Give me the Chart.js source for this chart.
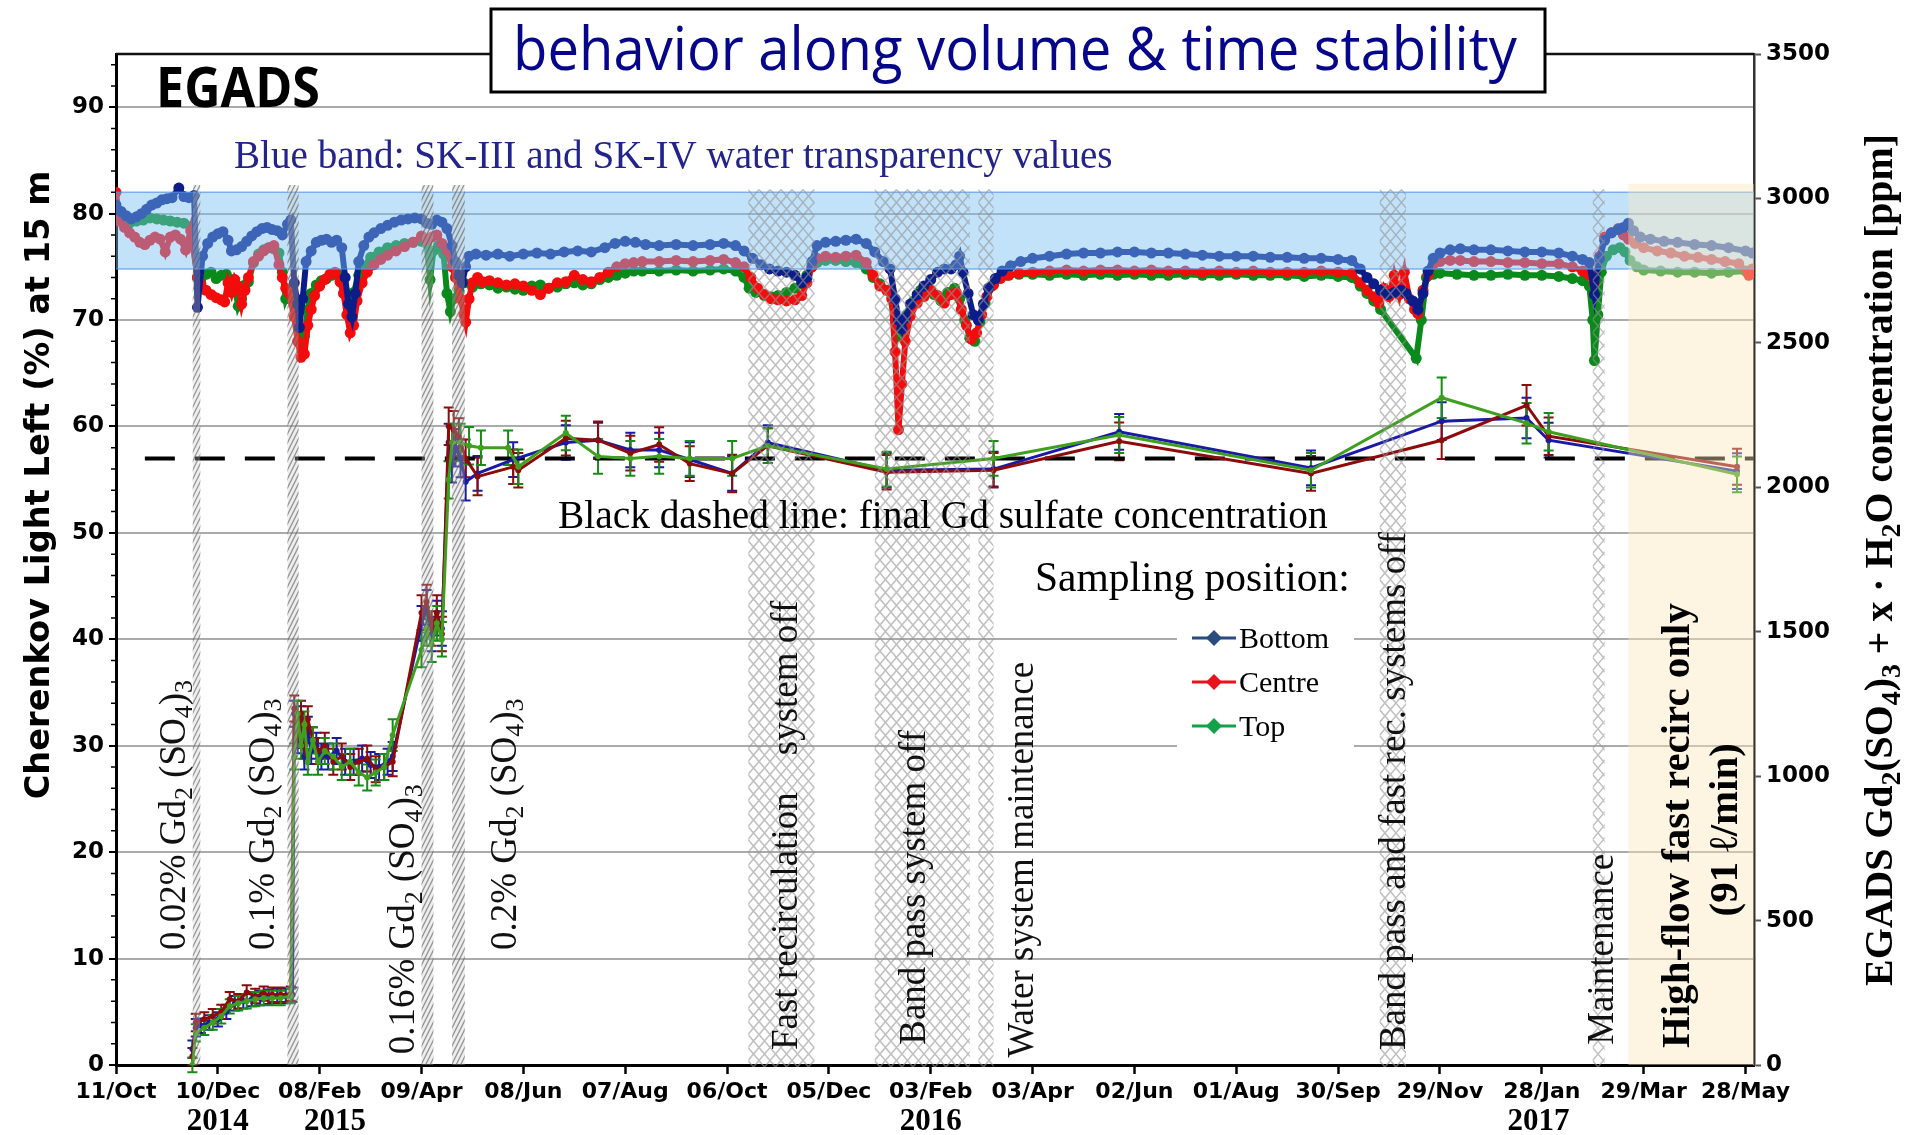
<!DOCTYPE html>
<html lang="en">
<head>
<meta charset="utf-8">
<title>EGADS - light left at 15 m</title>
<script src="https://cdn.jsdelivr.net/npm/chart.js@4.4.1/dist/chart.umd.min.js"></script>
<style>
  html, body { margin: 0; padding: 0; background: #fff; }
  canvas { display: block; }
</style>
</head>
<body>
<canvas id="egads" width="1914" height="1135"></canvas>
<script>
// x values are days counted from 11 Oct 2014
const xTickDays = [0, 60, 120, 180, 240, 300, 360, 420, 480, 540, 600, 660, 720, 780, 840, 900, 960];
const xTickLabels = ['11/Oct', '10/Dec', '08/Feb', '09/Apr', '08/Jun', '07/Aug', '06/Oct', '05/Dec',
  '03/Feb', '03/Apr', '02/Jun', '01/Aug', '30/Sep', '29/Nov', '28/Jan', '29/Mar', '28/May'];
const yearLabels = [['2014', 60], ['2015', 129], ['2016', 480], ['2017', 838]];
const leftTicks = [0, 10, 20, 30, 40, 50, 60, 70, 80, 90];
const rightTicks = [0, 500, 1000, 1500, 2000, 2500, 3000, 3500];

// Cherenkov light left at 15 m (%), [day, value]
const bottomLL = [
  [0,80.8],[3,80.2],[6,79.8],[9,79.5],[12,79.7],[15,80.0],[18,80.4],[21,80.8],[24,81.0],[27,81.3],[30,81.4],[33,81.5],[37,82.4],[40,81.6],[43,81.5],[46,81.7],
  [48,71.2],[51,76.0],[54,77.2],[57,77.8],[60,78.1],[63,78.3],[66,77.5],[68,76.5],[71,76.6],[74,76.9],[77,77.4],[80,77.9],[83,78.3],[86,78.6],[89,78.7],[92,78.5],[95,78.4],[98,78.0],[101,79.0],[103,79.4],
  [105,73.5],[107,71.5],[108,69.3],[110,72.0],[112,75.5],[115,76.5],[118,77.3],[121,77.5],[124,77.6],[127,77.3],[130,77.5],[133,76.8],[135,74.0],[137,71.5],[139,70.3],[141,72.5],[143,75.5],[146,77.0],[149,77.8],[152,78.2],[156,78.6],[160,78.9],[164,79.2],[168,79.4],[172,79.5],[176,79.6],[180,79.5],[183,79.1],[186,79.0],[189,79.4],[192,79.2],[195,78.6],[198,77.0],[200,75.5],[202,74.2],[204,73.5],[206,75.0],[208,76.0],[212,76.2],[218,76.1],[225,76.2],[232,76.0],[240,76.2],[248,76.3],[256,76.2],[264,76.4],[272,76.5],[280,76.4],[288,76.8],[294,77.2],[300,77.4],[306,77.3],[312,77.1],
  [320,77.0],[330,77.1],[340,77.0],[350,77.1],[358,77.2],[365,77.0],[370,76.5],[375,75.8],[380,75.2],[385,74.8],[390,74.6],[395,74.5],[400,74.2],[404,73.5],[407,74.0],[410,75.5],[413,77.0],[418,77.3],[424,77.4],[430,77.5],[436,77.6],[442,77.2],[447,76.4],[452,75.5],[456,74.8],[459,72.0],[461,70.0],[463,69.2],[465,70.2],[468,71.5],[472,72.4],[476,73.2],[480,73.8],[484,74.5],[488,74.8],[492,74.8],[495,75.2],[497,76.0],[499,74.5],[502,72.5],[505,70.5],[508,70.0],[511,71.5],[514,73.0],[518,73.9],[522,74.6],[527,75.1],[533,75.5],
  [540,75.8],[550,76.0],[560,76.2],[570,76.3],[580,76.3],[590,76.4],[600,76.4],[610,76.3],[620,76.3],[630,76.2],[640,76.1],[650,76.0],[660,76.0],[670,76.0],[680,75.9],[690,75.9],[700,75.8],[710,75.8],[720,75.7],[728,75.6],[733,74.8],[737,74.0],[741,73.4],[745,72.8],[749,72.4],[753,72.6],[757,72.8],[760,72.5],[764,71.8],[767,71.0],[770,72.5],[773,74.6],[776,75.8],[780,76.3],[786,76.6],[792,76.7],[800,76.6],[810,76.6],[820,76.5],[830,76.4],[840,76.4],[850,76.3],[858,76.0],[864,75.7],[868,75.4],[871,72.4],[874,75.8],[877,77.5],[881,78.2],[885,78.5],[888,78.7],[891,79.1],[894,78.4],[898,77.8],[904,77.6],[912,77.4],[920,77.3],[930,77.1],[940,77.0],[950,76.8],[960,76.5],[964,76.3]
];
const centreLL = [
  [0,82.0],[2,79.3],[5,78.7],[8,78.2],[11,77.8],[14,77.3],[17,77.1],[20,77.5],[23,77.8],[26,77.6],[29,76.4],[32,77.8],[35,78.0],[38,77.6],[41,76.6],[44,78.4],
  [48,74.0],[50,73.4],[53,72.8],[56,72.4],[59,72.1],[62,71.9],[64,71.7],[66,73.5],[68,72.6],[70,73.8],[72,73.2],[74,71.5],[76,72.8],[78,74.0],[81,75.5],[84,76.0],[87,76.5],[90,76.8],[93,77.0],[96,75.2],[98,74.0],[100,73.0],[102,72.5],
  [105,70.3],[107,68.0],[109,66.5],[111,66.8],[113,69.5],[115,71.0],[117,72.3],[120,73.2],[123,73.8],[126,74.3],[129,74.5],[132,73.6],[134,72.5],[136,70.5],[138,68.8],[140,69.5],[142,71.8],[145,73.5],[148,74.5],[152,75.2],[156,75.7],[160,76.1],[165,76.5],[170,76.9],[175,77.3],[180,77.9],[183,77.5],[186,77.8],[189,78.0],[192,77.2],[195,76.5],[198,75.0],[200,74.0],
  [203,72.0],[205,70.5],[206,69.8],[208,72.0],[210,73.5],[213,74.0],[216,73.6],[220,73.7],[225,73.5],[230,73.3],[235,73.4],[240,73.2],[245,72.8],[250,72.4],[255,73.0],[260,73.5],[265,73.6],[270,74.2],[275,73.8],[280,73.6],[285,74.0],[290,74.5],[295,75.0],[300,75.3],[305,75.4],[310,75.5],
  [320,75.5],[330,75.6],[340,75.5],[350,75.6],[358,75.7],[365,75.4],[370,75.0],[374,74.0],[378,73.0],[382,72.4],[386,72.0],[390,71.9],[395,71.8],[400,71.9],[404,72.3],[407,73.5],[410,75.0],[413,75.8],[418,76.0],[424,75.9],[430,76.0],[436,76.1],[442,75.4],[446,74.2],[450,73.2],[454,72.8],[457,72.0],[459,67.0],[461,59.7],[463,64.0],[465,68.0],[468,70.4],[472,71.6],[476,72.2],[480,72.8],[484,72.3],[488,71.6],[492,72.4],[495,72.6],[498,71.0],[501,69.5],[504,68.2],[507,68.8],[510,70.5],[513,72.2],[517,73.3],[521,73.9],[526,74.2],[532,74.4],
  [540,74.5],[550,74.6],[560,74.7],[570,74.6],[580,74.7],[590,74.7],[600,74.6],[610,74.7],[620,74.6],[630,74.6],[640,74.5],[650,74.6],[660,74.5],[670,74.6],[680,74.5],[690,74.5],[700,74.5],[710,74.6],[720,74.5],[728,74.4],[733,73.5],[737,72.8],[741,72.2],[744,71.6],[747,73.0],[750,72.2],[753,74.2],[756,72.4],[759,74.5],[762,72.0],[765,71.0],[767,70.6],[770,72.8],[773,74.2],[776,75.2],[780,75.5],[786,75.6],[792,75.6],[800,75.5],[810,75.5],[820,75.4],[830,75.4],[840,75.3],[850,75.3],[858,75.0],[864,74.6],[868,74.2],[871,73.4],[874,76.0],[877,77.8],[881,78.2],[885,78.6],[888,78.0],[891,77.6],[895,77.2],[900,76.8],[908,76.5],[916,76.3],[924,76.0],[932,75.9],[940,75.7],[948,75.5],[956,75.3],[962,74.2],[964,74.8]
];
const topLL = [
  [0,80.2],[4,79.4],[8,79.1],[12,79.3],[16,79.4],[20,79.6],[24,79.5],[28,79.4],[32,79.3],[36,79.2],[40,79.1],[44,78.8],
  [48,74.0],[50,73.8],[53,74.3],[56,74.5],[59,73.9],[62,74.2],[65,74.3],[68,73.8],[70,73.2],[72,71.3],[74,72.0],[76,73.3],[78,73.6],[81,75.4],[84,76.2],[87,76.6],[90,76.8],[93,76.7],[96,76.3],[98,74.5],[100,72.0],[102,72.8],
  [105,72.0],[107,70.5],[109,67.8],[111,68.5],[113,71.0],[115,72.5],[118,73.3],[121,73.7],[124,73.9],[127,74.2],[130,74.4],[133,73.8],[136,72.4],[138,71.8],[140,72.6],[143,74.2],[146,75.0],[150,75.9],[155,76.4],[160,76.8],[165,77.0],[170,77.2],[175,77.3],[180,77.4],[183,77.2],[185,73.8],[187,76.5],[190,77.0],[193,76.2],[195,72.5],[197,70.8],[199,72.0],[202,72.8],[205,73.5],[210,73.1],[215,73.4],[220,73.3],[225,73.0],[230,73.1],[235,72.9],[240,72.8],[245,73.2],[250,73.3],[255,73.0],[260,73.1],[265,73.4],[270,73.5],[275,73.3],[280,73.4],[285,73.8],[290,74.0],[295,74.2],[300,74.4],[305,74.6],[310,74.6],
  [320,74.6],[330,74.7],[340,74.6],[350,74.7],[358,74.8],[365,74.6],[370,74.0],[373,73.0],[377,72.6],[382,72.3],[386,72.2],[390,72.3],[395,72.6],[400,73.0],[404,73.4],[407,74.2],[410,75.0],[413,75.4],[418,75.6],[424,75.6],[430,75.5],[436,75.4],[442,74.8],[446,74.0],[450,73.4],[455,72.8],[459,70.0],[461,68.5],[463,69.0],[466,70.5],[470,71.8],[474,72.8],[478,73.2],[482,72.4],[486,71.8],[490,72.6],[494,73.0],[497,72.0],[500,70.0],[503,68.3],[506,68.0],[509,69.8],[512,71.6],[516,73.2],[520,74.0],[525,74.2],[532,74.3],
  [540,74.3],[550,74.2],[560,74.3],[570,74.2],[580,74.3],[590,74.2],[600,74.3],[610,74.2],[620,74.2],[630,74.3],[640,74.2],[650,74.2],[660,74.3],[670,74.2],[680,74.2],[690,74.2],[700,74.1],[710,74.2],[720,74.1],[728,74.0],[733,73.2],[737,72.5],[741,71.8],[745,71.0],[766,66.4],[769,70.0],[772,74.0],[776,74.3],[780,74.4],[790,74.3],[800,74.2],[810,74.2],[820,74.3],[830,74.2],[840,74.2],[850,74.1],[858,73.9],[864,73.7],[868,73.2],[870,70.0],[871,66.2],[873,70.5],[875,74.5],[878,76.0],[882,76.6],[886,76.8],[889,76.4],[892,75.6],[896,75.0],[900,74.7],[910,74.6],[920,74.5],[930,74.5],[940,74.4],[950,74.5],[960,74.6],[964,74.5]
];

// Gd2(SO4)3 + x H2O concentration (ppm), [day, value, error]
const bottomGd = [
  [45,55,30],[47,129,30],[50,136,25],[55,147,25],[60,158,25],[65,184,25],[70,214,25],[75,221,25],[80,228,25],[85,232,25],[90,236,25],[95,239,25],[100,239,25],[104,243,25],
  [105,1216,45],[107,1124,45],[109,1197,45],[111,1068,45],[113,1161,45],[115,1087,45],[118,1105,45],[121,1068,45],[125,1068,45],[130,1087,45],[135,1050,45],[140,1050,45],[145,1061,45],[150,1039,45],[155,1032,45],[160,1050,45],[163,1068,50],
  [180,1529,60],[183,1584,60],[186,1492,60],[189,1547,60],[192,1511,60],
  [196,2155,65],[198,2082,65],[200,2137,65],[203,2100,65],[206,2019,65],[213,2048,60],[234,2096,60],[265,2155,60],[284,2163,60],[303,2129,60],[320,2129,60],[338,2096,60],[363,2048,60],[384,2155,60],[454,2059,60],[517,2063,60],[591,2192,62],[704,2067,60],[781,2229,65],[831,2240,70],[844,2163,60],[955,2056,62]
];
const centreGd = [
  [45,29,30],[47,147,30],[52,158,25],[57,169,25],[62,184,25],[67,228,25],[72,221,25],[77,251,25],[82,239,25],[87,247,25],[92,243,25],[97,243,25],[103,247,25],
  [105,1234,45],[107,1142,45],[109,1216,45],[111,1105,45],[113,1197,45],[116,1124,45],[119,1087,45],[123,1105,45],[128,1050,45],[133,1068,45],[138,1032,45],[143,1050,45],[148,1061,45],[153,1024,45],[158,1032,45],[163,1050,50],
  [180,1566,60],[183,1603,60],[186,1511,60],[189,1566,60],[192,1492,60],
  [196,2211,65],[199,2199,65],[202,2174,65],[206,2100,65],[213,2037,65],[234,2071,60],[237,2059,60],[265,2170,60],[284,2163,65],[303,2118,60],[320,2148,60],[338,2082,60],[363,2048,65],[384,2144,60],[454,2052,60],[517,2059,60],[591,2159,65],[704,2048,60],[781,2163,65],[831,2284,70],[844,2177,65],[955,2071,62]
];
const topGd = [
  [45,0,25],[47,111,30],[52,129,25],[57,147,25],[62,169,25],[67,203,25],[72,214,25],[77,221,25],[82,228,25],[87,232,25],[92,232,25],[97,232,25],[103,239,25],
  [105,1068,45],[107,1216,45],[109,1105,45],[111,1179,45],[113,1050,45],[116,1124,45],[119,1050,45],[123,1087,45],[128,1068,45],[133,1032,45],[138,1050,45],[143,1013,45],[148,995,45],[153,1013,45],[158,1032,45],[163,1142,55],
  [180,1437,60],[183,1511,60],[186,1455,60],[189,1529,60],[192,1474,60],
  [196,2026,65],[198,2155,65],[203,2155,65],[208,2144,65],[215,2137,60],[231,2137,60],[237,2071,60],[265,2188,60],[284,2107,60],[303,2100,60],[320,2107,60],[338,2100,60],[363,2100,60],[384,2144,60],[454,2063,60],[517,2100,60],[591,2181,62],[704,2059,60],[781,2310,70],[831,2222,70],[844,2192,65],[955,2045,62]
];

// final Gd sulfate concentration (ppm) and the days it is drawn over
const finalGdPpm = 2100;
const finalGdSpan = [17, 965];

// SK-III / SK-IV transparency band (%)
const skBand = [74.8, 82.0];

// Gd2(SO4)3 injections and stopped-system periods, [first day, last day]
const injectionPeriods = [[45.2, 49.7], [101, 107.6], [180, 187], [198, 205.5]];
const stopPeriods = [[372.5, 411.5], [447, 503], [508, 517], [744.5, 760], [870, 877]];
const highFlowStart = 891;

const SERIF = "'Liberation Serif', 'DejaVu Serif', serif";
const SANS = "'DejaVu Sans', sans-serif";

// vertical notes: text ("_x" = subscript x), day, value at the start of the line
const notes = [
  ['0.02% Gd_2 (SO_4)_3', 33, 10.8],
  ['0.1% Gd_2 (SO_4)_3', 85.4, 10.8],
  ['0.16% Gd_2 (SO_4)_3', 168.4, 1.0],
  ['0.2% Gd_2 (SO_4)_3', 228, 10.8],
  ['Fast recirculation    system off', 394, 1.4],
  ['Band pass system off', 469.4, 1.9],
  ['Water system maintenance', 533, 0.7],
  ['Band pass and fast rec. systems off', 752, 1.4],
  ['Maintenance', 874.6, 1.9]
];

const legendNames = ['Bottom', 'Centre', 'Top'];
const legendColors = ['#2b4b7e', '#e8121c', '#12a24a'];

function parseRich(str) {
  const parts = [];
  let buf = '';
  for (let i = 0; i < str.length; i++) {
    if (str[i] === '_' && i + 1 < str.length) {
      if (buf) parts.push([buf, false]);
      buf = '';
      parts.push([str[i + 1], true]);
      i++;
    } else {
      buf += str[i];
    }
  }
  if (buf) parts.push([buf, false]);
  return parts;
}

function richWidth(ctx, parts, size, weight, family) {
  let w = 0;
  parts.forEach(([t, sub]) => {
    ctx.font = `${weight} ${sub ? size * 0.7 : size}px ${family}`;
    w += ctx.measureText(t).width;
  });
  return w;
}

function drawRich(ctx, parts, x, y, size, weight, family) {
  let cx = x;
  parts.forEach(([t, sub]) => {
    ctx.font = `${weight} ${sub ? size * 0.7 : size}px ${family}`;
    ctx.fillText(t, cx, sub ? y + size * 0.2 : y);
    cx += ctx.measureText(t).width;
  });
}

function fitSize(ctx, str, weight, family, target) {
  return 100 * target / richWidth(ctx, parseRich(str), 100, weight, family);
}

// text running bottom-to-top, px is the centre line of the glyphs
function upText(ctx, str, px, py, size, weight, family, color, centred) {
  const parts = parseRich(str);
  ctx.save();
  ctx.translate(px, py);
  ctx.rotate(-Math.PI / 2);
  ctx.fillStyle = color;
  ctx.textAlign = 'left';
  ctx.textBaseline = 'alphabetic';
  const w = richWidth(ctx, parts, size, weight, family);
  drawRich(ctx, parts, centred ? -w / 2 : 0, size * 0.34, size, weight, family);
  ctx.restore();
}

function hatchDiag(ctx, x0, x1, y0, y1) {
  ctx.save();
  ctx.beginPath();
  ctx.rect(x0, y0, x1 - x0, y1 - y0);
  ctx.clip();
  ctx.fillStyle = 'rgba(200,200,200,0.3)';
  ctx.fillRect(x0, y0, x1 - x0, y1 - y0);
  ctx.strokeStyle = 'rgba(90,90,90,0.6)';
  ctx.lineWidth = 1.3;
  const run = (y1 - y0) / 2;
  ctx.beginPath();
  for (let k = x0 - run - 6; k < x1 + 6; k += 4.5) {
    ctx.moveTo(k, y1);
    ctx.lineTo(k + run, y0);
  }
  ctx.stroke();
  ctx.restore();
}

function hatchCross(ctx, x0, x1, y0, y1) {
  ctx.save();
  ctx.beginPath();
  ctx.rect(x0, y0, x1 - x0, y1 - y0);
  ctx.clip();
  ctx.strokeStyle = 'rgba(150,150,150,0.6)';
  ctx.lineWidth = 1.5;
  const w = 11, h = 13, run = (y1 - y0) * w / h;
  ctx.beginPath();
  for (let k = x0 - run - w; k < x1 + run + w; k += w) {
    ctx.moveTo(k, y1); ctx.lineTo(k + run, y0);
    ctx.moveTo(k, y1); ctx.lineTo(k - run, y0);
  }
  ctx.stroke();
  ctx.restore();
}

const decor = {
  id: 'decor',
  beforeDatasetsDraw(chart) {
    const { ctx } = chart;
    ctx.save();
    // white backing behind the legend
    ctx.fillStyle = '#fff';
    ctx.fillRect(1177, 598, 177, 170);
    // error bars of the concentration samples
    chart.data.datasets.forEach((ds, i) => {
      if (!ds.errors) return;
      const meta = chart.getDatasetMeta(i);
      const ys = chart.scales[ds.yAxisID];
      ctx.strokeStyle = ds.errColor;
      ctx.lineWidth = 2;
      ctx.beginPath();
      meta.data.forEach((pt, j) => {
        const v = ds.data[j].y, e = ds.errors[j];
        const a = ys.getPixelForValue(v + e), b = ys.getPixelForValue(v - e);
        ctx.moveTo(pt.x, a); ctx.lineTo(pt.x, b);
        ctx.moveTo(pt.x - 5, a); ctx.lineTo(pt.x + 5, a);
        ctx.moveTo(pt.x - 5, b); ctx.lineTo(pt.x + 5, b);
      });
      ctx.stroke();
    });
    ctx.restore();
  },
  afterDatasetsDraw(chart) {
    const { ctx, chartArea: a } = chart;
    const x = chart.scales.x, y = chart.scales.y;
    ctx.save();
    const yt = y.getPixelForValue(skBand[1]), yb = y.getPixelForValue(skBand[0]);
    ctx.fillStyle = 'rgba(120,190,245,0.45)';
    ctx.fillRect(a.left, yt, a.right - a.left, yb - yt);
    ctx.strokeStyle = 'rgba(80,150,235,0.7)';
    ctx.lineWidth = 1.5;
    ctx.beginPath();
    ctx.moveTo(a.left, yt); ctx.lineTo(a.right, yt);
    ctx.moveTo(a.left, yb); ctx.lineTo(a.right, yb);
    ctx.stroke();

    const hx = x.getPixelForValue(highFlowStart), hy = y.getPixelForValue(82.8);
    ctx.fillStyle = 'rgba(250,228,185,0.42)';
    ctx.fillRect(hx, hy, a.right - hx, a.bottom - hy);

    injectionPeriods.forEach(([d0, d1]) =>
      hatchDiag(ctx, x.getPixelForValue(d0), x.getPixelForValue(d1), y.getPixelForValue(82.7), a.bottom));
    stopPeriods.forEach(([d0, d1]) =>
      hatchCross(ctx, x.getPixelForValue(d0), x.getPixelForValue(d1), y.getPixelForValue(82.3), a.bottom + 2));
    ctx.restore();
  },
  afterDraw(chart) {
    const { ctx, chartArea: a } = chart;
    const x = chart.scales.x, y = chart.scales.y;
    ctx.save();

    // frame top and minor ticks
    ctx.strokeStyle = '#111';
    ctx.lineWidth = 2.5;
    ctx.beginPath();
    ctx.moveTo(a.left, a.top); ctx.lineTo(a.right, a.top);
    ctx.stroke();
    ctx.strokeStyle = '#000';
    ctx.lineWidth = 1.5;
    ctx.beginPath();
    for (let v = 2; v < 95; v += 2) {
      if (v % 10 === 0) continue;
      const py = y.getPixelForValue(v);
      ctx.moveTo(a.left - 5, py); ctx.lineTo(a.left, py);
    }
    ctx.stroke();

    // years under the date ticks
    ctx.fillStyle = '#000';
    ctx.textAlign = 'center';
    ctx.textBaseline = 'alphabetic';
    ctx.font = `bold 31px ${SERIF}`;
    yearLabels.forEach(([t, d]) => ctx.fillText(t, x.getPixelForValue(d), 1130));

    // vertical notes
    notes.forEach(([t, d, v]) =>
      upText(ctx, t, x.getPixelForValue(d), y.getPixelForValue(v), 37, 'normal', SERIF, '#111'));
    const hfSize = fitSize(ctx, 'High-flow fast recirc only', 'bold', SERIF, 445);
    upText(ctx, 'High-flow fast recirc only', x.getPixelForValue(918.7), y.getPixelForValue(22.5), hfSize, 'bold', SERIF, '#000', true);
    upText(ctx, '(91 \u2113/min)', x.getPixelForValue(947), y.getPixelForValue(22.1), hfSize, 'bold', SERIF, '#000', true);

    // axis titles
    const lt = 'Cherenkov Light Left (%) at 15 m';
    upText(ctx, lt, 38, 485, fitSize(ctx, lt, 'bold', SANS, 629), 'bold', SANS, '#000', true);
    const rt = 'EGADS Gd_2(SO_4)_3 + x \u00b7 H_2O concentration [ppm]';
    upText(ctx, rt, 1878, 560, fitSize(ctx, rt, 'bold', SERIF, 852), 'bold', SERIF, '#000', true);

    // horizontal notes
    ctx.textAlign = 'left';
    ctx.textBaseline = 'alphabetic';
    const bb = 'Blue band: SK-III and SK-IV water transparency values';
    ctx.fillStyle = '#23238c';
    ctx.font = `${fitSize(ctx, bb, 'normal', SERIF, 879)}px ${SERIF}`;
    ctx.fillText(bb, 234, 168);
    const bd = 'Black dashed line: final Gd sulfate concentration';
    ctx.fillStyle = '#000';
    ctx.font = `${fitSize(ctx, bd, 'normal', SERIF, 770)}px ${SERIF}`;
    ctx.fillText(bd, 558, 528);
    const sp = 'Sampling position:';
    ctx.font = `${fitSize(ctx, sp, 'normal', SERIF, 315)}px ${SERIF}`;
    ctx.fillText(sp, 1035, 591);

    // legend
    legendNames.forEach((name, i) => {
      const ly = 638 + i * 44;
      ctx.strokeStyle = legendColors[i];
      ctx.fillStyle = legendColors[i];
      ctx.lineWidth = 3;
      ctx.beginPath();
      ctx.moveTo(1192, ly); ctx.lineTo(1236, ly);
      ctx.stroke();
      ctx.beginPath();
      ctx.moveTo(1214, ly - 8); ctx.lineTo(1222, ly); ctx.lineTo(1214, ly + 8); ctx.lineTo(1206, ly);
      ctx.closePath();
      ctx.fill();
      ctx.fillStyle = '#000';
      ctx.font = `30px ${SERIF}`;
      ctx.fillText(name, 1239, ly + 10);
    });

    // EGADS tag
    ctx.font = `bold 56px 'Open Sans', sans-serif`;
    const ew = ctx.measureText('EGADS').width;
    ctx.save();
    ctx.translate(156, 107);
    ctx.scale(164 / ew, 1);
    ctx.fillStyle = '#000';
    ctx.fillText('EGADS', 0, 0);
    ctx.restore();

    // headline box
    ctx.fillStyle = '#fff';
    ctx.fillRect(491, 9, 1054, 83);
    ctx.strokeStyle = '#000';
    ctx.lineWidth = 3;
    ctx.strokeRect(491, 9, 1054, 83);
    const head = 'behavior along volume & time stability';
    ctx.font = `60px 'Open Sans', sans-serif`;
    const hw = ctx.measureText(head).width;
    ctx.save();
    ctx.translate(513, 70);
    ctx.scale(1004 / hw, 1);
    ctx.fillStyle = '#06068a';
    ctx.fillText(head, 0, 0);
    ctx.restore();

    ctx.restore();
  }
};

const pts = rows => rows.map(r => ({ x: r[0], y: r[1] }));
const errs = rows => rows.map(r => r[2]);

const llStyle = (color, order) => ({
  yAxisID: 'y', borderColor: color, backgroundColor: color,
  borderWidth: 6, pointRadius: 5.5, pointBorderWidth: 0, order
});
const gdStyle = (color, errColor, order) => ({
  yAxisID: 'y2', borderColor: color, backgroundColor: color,
  borderWidth: 3, pointRadius: 3, pointBorderWidth: 0, errColor, order
});

new Chart(document.getElementById('egads'), {
  type: 'line',
  data: {
    datasets: [
      { label: 'Bottom', data: pts(bottomLL), ...llStyle('#0c1c88', 3) },
      { label: 'Centre', data: pts(centreLL), ...llStyle('#f20c0c', 4) },
      { label: 'Top', data: pts(topLL), ...llStyle('#0a8a1a', 5) },
      { label: 'Bottom Gd', data: pts(bottomGd), errors: errs(bottomGd), ...gdStyle('#1a1aa6', '#1a1aa6', 2) },
      { label: 'Centre Gd', data: pts(centreGd), errors: errs(centreGd), ...gdStyle('#8e0b0b', '#8e0b0b', 1.5) },
      { label: 'Top Gd', data: pts(topGd), errors: errs(topGd), ...gdStyle('#3f9f1f', '#168c16', 1) },
      {
        label: 'final', yAxisID: 'y2', order: 6,
        data: finalGdSpan.map(d => ({ x: d, y: finalGdPpm })),
        borderColor: '#000', borderWidth: 4, borderDash: [30, 20], pointRadius: 0
      }
    ]
  },
  options: {
    responsive: false,
    maintainAspectRatio: false,
    devicePixelRatio: 1,
    animation: false,
    events: [],
    layout: { padding: { top: 54, left: 0, right: 0, bottom: 0 } },
    elements: { line: { tension: 0 } },
    plugins: { legend: { display: false }, tooltip: { enabled: false } },
    scales: {
      x: {
        type: 'linear', min: 0, max: 965,
        afterBuildTicks: s => { s.ticks = xTickDays.map(v => ({ value: v })); },
        ticks: {
          autoSkip: false, maxRotation: 0, color: '#000', padding: 5,
          font: { family: SANS, weight: 'bold', size: 22 },
          callback: v => xTickLabels[xTickDays.indexOf(v)]
        },
        grid: { drawOnChartArea: false, tickLength: 9, tickColor: '#000', tickWidth: 2.5 },
        border: { color: '#000', width: 3 },
        afterFit: s => { s.height = 70; }
      },
      y: {
        position: 'left', min: 0, max: 95,
        afterBuildTicks: s => { s.ticks = leftTicks.map(v => ({ value: v })); },
        ticks: { color: '#000', padding: 5, font: { family: SANS, weight: 'bold', size: 23 }, callback: v => String(v) },
        grid: { color: '#ababab', lineWidth: 2, tickLength: 7, tickColor: '#000', tickWidth: 2 },
        border: { color: '#000', width: 3 },
        afterFit: s => { s.width = 116; }
      },
      y2: {
        position: 'right', min: 0, max: 3500,
        afterBuildTicks: s => { s.ticks = rightTicks.map(v => ({ value: v })); },
        ticks: { color: '#000', padding: 5, font: { family: SANS, weight: 'bold', size: 23 }, callback: v => String(v) },
        grid: { drawOnChartArea: false, tickLength: 7, tickColor: '#555', tickWidth: 2 },
        border: { color: '#333', width: 2.5 },
        afterFit: s => { s.width = 160; }
      }
    }
  },
  plugins: [decor]
});
</script>
</body>
</html>
